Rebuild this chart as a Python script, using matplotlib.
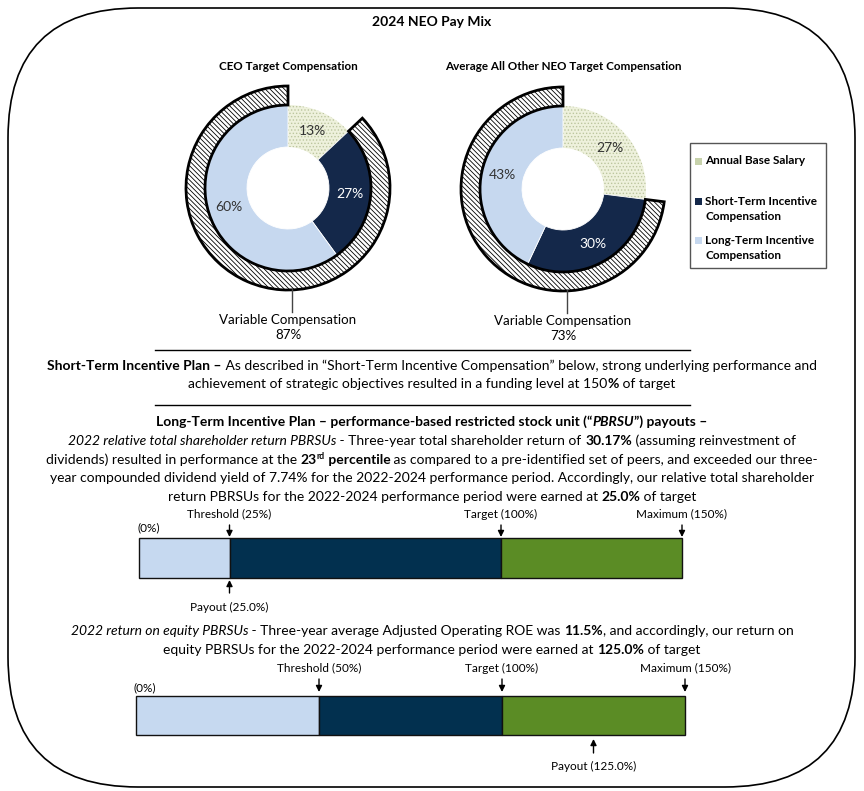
import numpy as np
import matplotlib.pyplot as plt
from matplotlib.patches import FancyBboxPatch, Rectangle

W, H = 864, 791
plt.rcParams['hatch.linewidth'] = 0.6

SANS = ['Lato', 'DejaVu Sans']

# pay mix data
mix_labels = ['Annual Base Salary', 'Short-Term Incentive\nCompensation', 'Long-Term Incentive\nCompensation']
ceo_mix = [13, 27, 60]
neo_mix = [27, 30, 43]
ceo_variable = 87
neo_variable = 73
pie_colors = ['#eef1dc', '#14284a', '#c6d8ef']
legend_colors = ['#c7d2ab', '#14284a', '#c6d8ef']

# payout scales
tsr_levels = [0, 25, 100, 150]
tsr_marks = ['(0%)', 'Threshold (25%)', 'Target (100%)', 'Maximum (150%)']
tsr_payout = 25.0
roe_levels = [0, 50, 100, 150]
roe_marks = ['(0%)', 'Threshold (50%)', 'Target (100%)', 'Maximum (150%)']
roe_payout = 125.0
bar_colors = ['#c6d9f0', '#02304f', '#5b8c25']

sti_text = [
    [('Short-Term Incentive Plan –', 'b'),
     (' As described in “Short-Term Incentive Compensation” below, strong underlying performance and', '')],
    [('achievement of strategic objectives resulted in a funding level at 150', ''), ('%', 'b'), (' of target', '')],
]
lti_text = [
    [('Long-Term Incentive Plan – performance-based restricted stock unit (“', 'b'), ('PBRSU', 'bi'), ('”) payouts –', 'b')],
    [('2022 relative total shareholder return PBRSUs', 'i'), (' - Three-year total shareholder return of ', ''),
     ('30.17%', 'b'), (' (assuming reinvestment of', '')],
    [('dividends) resulted in performance at the ', ''), ('23', 'b'), ('rd', 'bs'), (' percentile', 'b'),
     (' as compared to a pre-identified set of peers, and exceeded our three-', '')],
    [('year compounded dividend yield of 7.74% for the 2022-2024 performance period. Accordingly, our relative total shareholder', '')],
    [('return PBRSUs for the 2022-2024 performance period were earned at ', ''), ('25.0%', 'b'), (' of target', '')],
]
roe_text = [
    [('2022 return on equity PBRSUs', 'i'), (' - Three-year average Adjusted Operating ROE was ', ''),
     ('11.5%', 'b'), (', and accordingly, our return on', '')],
    [('equity PBRSUs for the 2022-2024 performance period were earned at ', ''), ('125.0%', 'b'), (' of target', '')],
]

fig = plt.figure(figsize=(W / 100, H / 100), dpi=100)
ax = fig.add_axes([0, 0, 1, 1])
renderer = fig.canvas.get_renderer()

ax.add_patch(FancyBboxPatch((8, 8), 847, 779, boxstyle='round,pad=0,rounding_size=130',
                            facecolor='white', edgecolor='black', linewidth=1.2))
ax.text(432, 22, '2024 NEO Pay Mix', ha='center', va='center', fontsize=10,
        fontweight='bold', family=SANS)


def donut(cx, cy, mix, variable, title):
    wedges, _, pcts = ax.pie(mix, colors=pie_colors, startangle=-90, counterclock=True,
                             radius=83, center=(cx, cy), frame=True, autopct='%.0f%%',
                             pctdistance=0.75,
                             wedgeprops=dict(width=42, edgecolor='white', linewidth=0.6),
                             textprops=dict(fontsize=10, family=SANS, color='#333333'))
    wedges[0].set_hatch('.....')
    wedges[0].set_edgecolor('#bcc59f')
    wedges[0].set_linewidth(0)
    pcts[1].set_color('white')
    ring, _ = ax.pie([100 - variable, variable], colors=['none', 'white'], startangle=-90,
                     counterclock=True, radius=102, center=(cx, cy), frame=True,
                     wedgeprops=dict(width=19, edgecolor='black', linewidth=2))
    ring[0].set_visible(False)
    ring[1].set_hatch('\\\\\\\\\\\\\\')
    ax.text(cx, 67, title, ha='center', va='center', fontsize=8.4, fontweight='bold', family=SANS)
    ax.plot([cx + 4, cx + 4], [cy + 101, cy + 124], color='#444444', lw=1)
    ax.text(cx, cy + 132, 'Variable Compensation', ha='center', va='center', fontsize=9.6, family=SANS)
    ax.text(cx, cy + 147, f'{variable}%', ha='center', va='center', fontsize=9.6, family=SANS)


donut(288, 188, ceo_mix, ceo_variable, 'CEO Target Compensation')
donut(563, 189, neo_mix, neo_variable, 'Average All Other NEO Target Compensation')

# legend
ax.add_patch(Rectangle((690, 143), 136, 125, fill=False, edgecolor='#555555', lw=1))
for lab, col, yc in zip(mix_labels, legend_colors, [161, 209, 248]):
    ax.add_patch(Rectangle((695, yc - 3.5 - (7.5 if '\n' in lab else 0)), 7, 7, facecolor=col, edgecolor='none'))
    ax.text(705, yc, lab, ha='left', va='center', fontsize=8.5, fontweight='bold',
            family=SANS, linespacing=1.45)

ax.plot([155, 690], [350, 350], color='black', lw=1)
ax.plot([155, 690], [405, 405], color='black', lw=1)


def props(flags, size):
    return dict(fontsize=size * (0.62 if 's' in flags else 1), family=SANS,
                fontweight='bold' if 'b' in flags else 'normal',
                fontstyle='italic' if 'i' in flags else 'normal')


def seg_width(s, flags, size):
    a = ax.text(0, 0, '|' + s + '|', **props(flags, size))
    b = ax.text(0, 0, '||', **props(flags, size))
    w = a.get_window_extent(renderer).width - b.get_window_extent(renderer).width
    a.remove()
    b.remove()
    return w


# size the body text so the first paragraph line spans the same width as in the reference
BODY = 10 * 767 / sum(seg_width(s, f, 10) for s, f in sti_text[0])


def rich_lines(y0, lines, step=18.8, size=BODY):
    for k, parts in enumerate(lines):
        widths = [seg_width(s, f, size) for s, f in parts]
        x = 432 - sum(widths) / 2
        y = y0 + k * step + 4
        for (s, f), w in zip(parts, widths):
            ax.text(x, y - (size * 0.5 if 's' in f else 0), s, ha='left', va='baseline', **props(f, size))
            x += w


rich_lines(366, sti_text, step=18)
rich_lines(422, lti_text)
rich_lines(631, roe_text)

LBL = 8.5


def arrow(bax, x, y_from, y_to):
    bax.annotate('', xy=(x, y_to), xycoords='axes pixels', xytext=(x, y_from), textcoords='axes pixels',
                 arrowprops=dict(arrowstyle='-|>', color='black', lw=1, mutation_scale=9,
                                 shrinkA=0, shrinkB=0))


def payout_bar(left, right, top, bottom, levels, marks, payout, lbl_off, tail, tip, p_tip, p_tail, p_lbl, zero_off):
    bax = fig.add_axes([left / W, 1 - bottom / H, (right - left) / W, (bottom - top) / H])
    bax.set_xlim(levels[0], levels[-1])
    bax.set_ylim(0, 1)
    bax.axis('off')
    bax.barh(0.5, np.diff(levels), left=levels[:-1], height=1, color=bar_colors,
             edgecolor='#111111', linewidth=1, clip_on=False)
    tr = ('data', 'axes fraction')
    h = bottom - top
    for lvl, lab in zip(levels, marks):
        if lvl == levels[0]:
            bax.annotate(lab, xy=(lvl, 1), xycoords=tr, xytext=(-2, zero_off), textcoords='offset pixels',
                         ha='left', va='center', fontsize=LBL, family=SANS)
            continue
        bax.annotate(lab, xy=(lvl, 1), xycoords=tr, xytext=(0, lbl_off), textcoords='offset pixels',
                     ha='center', va='center', fontsize=LBL, family=SANS)
        x_px = (lvl - levels[0]) / (levels[-1] - levels[0]) * (right - left)
        arrow(bax, x_px, h + tail, h + tip)
    x_px = (payout - levels[0]) / (levels[-1] - levels[0]) * (right - left)
    arrow(bax, x_px, -p_tail, -p_tip)
    bax.annotate(f'Payout ({payout:.1f}%)', xy=(payout, 0), xycoords=tr, xytext=(0, -p_lbl),
                 textcoords='offset pixels', ha='center', va='center', fontsize=LBL, family=SANS)


payout_bar(139, 682, 538, 578, tsr_levels, tsr_marks, tsr_payout, 24, 13, 1, 2, 15, 29, 10)
payout_bar(136, 685, 696, 735, roe_levels, roe_marks, roe_payout, 28, 17, 4, 4, 18, 31, 8)

ax.set_xlim(0, W)
ax.set_ylim(H, 0)
ax.axis('off')
fig.savefig('out.png', dpi=100)
